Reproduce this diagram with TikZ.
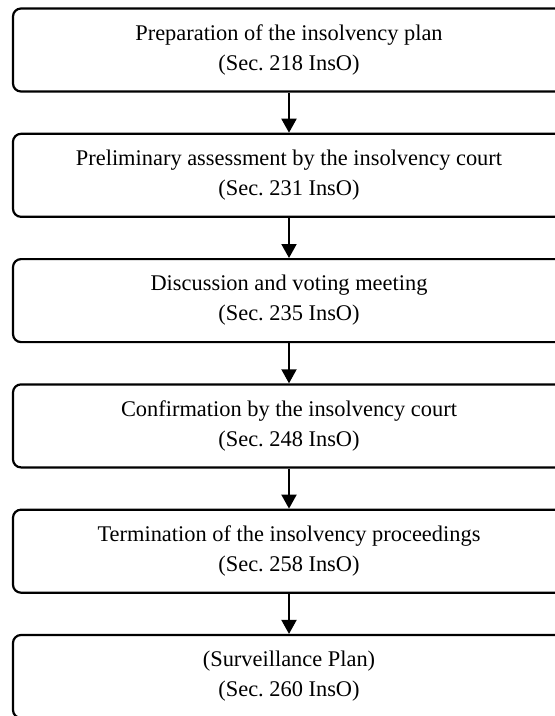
\documentclass[tikz,border=0pt]{standalone}
\usepackage{fontspec}
\setmainfont{Liberation Serif}
\usetikzlibrary{arrows.meta}
\frenchspacing
\begin{document}
\begin{tikzpicture}[x=1pt,y=1pt,
  stagebox/.style={draw=black, line width=2.2pt, rounded corners=8pt,
    minimum width=552pt, minimum height=83pt, inner sep=0pt,
    align=center, font=\fontsize{22.4}{30}\selectfont},
  flowarrow/.style={draw=black, line width=2pt,
    -{Triangle[length=14pt,width=15pt]}}]
\useasboundingbox (0,0) rectangle (555,-716);
\clip (0,0) rectangle (555,-716);
\node[stagebox] (s1) at (289,-50.0) {Preparation of the insolvency plan\\(Sec.\ 218 InsO)};
\node[stagebox] (s2) at (289,-175.3) {Preliminary assessment by the insolvency court\\(Sec.\ 231 InsO)};
\node[stagebox] (s3) at (289,-300.6) {Discussion and voting meeting\\(Sec.\ 235 InsO)};
\node[stagebox] (s4) at (289,-425.9) {Confirmation by the insolvency court\\(Sec.\ 248 InsO)};
\node[stagebox] (s5) at (289,-551.2) {Termination of the insolvency proceedings\\(Sec.\ 258 InsO)};
\node[stagebox] (s6) at (289,-676.5) {(Surveillance Plan)\\(Sec.\ 260 InsO)};
\draw[flowarrow] (s1) -- (s2);
\draw[flowarrow] (s2) -- (s3);
\draw[flowarrow] (s3) -- (s4);
\draw[flowarrow] (s4) -- (s5);
\draw[flowarrow] (s5) -- (s6);
\end{tikzpicture}
\end{document}
